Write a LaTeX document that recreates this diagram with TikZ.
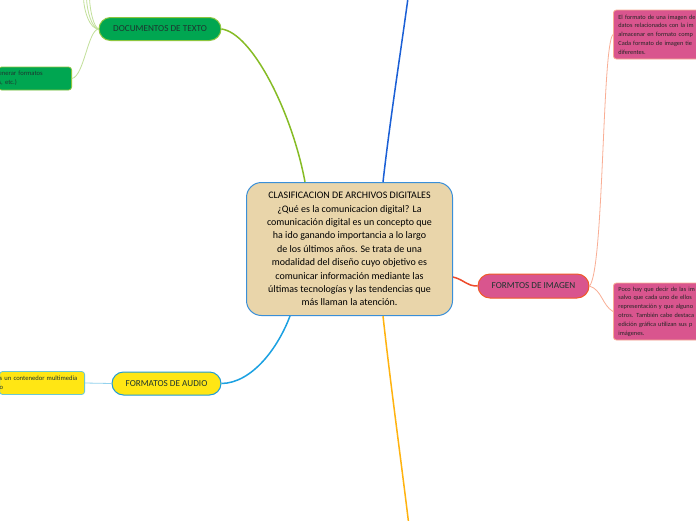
\documentclass[tikz,border=0pt]{standalone}
\usepackage{fontspec}
\setmainfont{Carlito}
\definecolor{cfill}{HTML}{E9D5AA}
\definecolor{cborder}{HTML}{3A8FD8}
\definecolor{docfill}{HTML}{00A651}
\definecolor{docborder}{HTML}{8DC63F}
\definecolor{docline}{HTML}{86BC25}
\definecolor{lightgreen}{HTML}{C2E09A}
\definecolor{imgfill}{HTML}{D9558E}
\definecolor{imgborder}{HTML}{F05A28}
\definecolor{imgline}{HTML}{EE4B2B}
\definecolor{salmon}{HTML}{F9AE95}
\definecolor{audfill}{HTML}{FFE614}
\definecolor{audborder}{HTML}{1E9BD7}
\definecolor{audline}{HTML}{1BA1E2}
\definecolor{lightblue}{HTML}{93D2EE}
\definecolor{tealborder}{HTML}{6CC8D2}
\definecolor{topblue}{HTML}{1A5FD6}
\definecolor{botorange}{HTML}{FFB30F}
\definecolor{darktext}{HTML}{1E3530}
\tikzset{
  central/.style={draw=cborder, fill=cfill, line width=1pt, rounded corners=15pt,
    minimum width=206pt, minimum height=133pt, align=center, text=black,
    font=\fontsize{10}{13.4}\selectfont, inner sep=0pt},
  pill/.style={line width=1pt, minimum height=23pt, inner sep=0pt,
    font=\fontsize{9.2}{10}\selectfont, text=darktext},
  sidebox/.style={line width=0.8pt, rounded corners=3pt, align=left, inner ysep=0pt,
    font=\fontsize{6.6}{8.8}\selectfont, text=darktext},
  pinkbox/.style={sidebox, draw=salmon, fill=imgfill, anchor=west, text width=110pt,
    inner xsep=5pt, text=black!85, font=\fontsize{6.3}{8.8}\selectfont},
  thick line/.style={line width=1.5pt},
  thin line/.style={line width=0.8pt}
}
\begin{document}
\begin{tikzpicture}[x=1pt,y=-1pt]
\clip (0,0) rectangle (696,520);
\fill[white] (0,0) rectangle (696,520);

% free ends
\coordinate (topend) at (408,-2);
\coordinate (botend) at (408.5,522);
\coordinate (t1) at (83.5,-2);
\coordinate (t2) at (86.5,-2);
\coordinate (t3) at (89.5,-2);

% nodes
\node[central] (c) at (349.5,249) {CLASIFICACION DE ARCHIVOS DIGITALES\\
¿Qué es la comunicacion digital? La\\
comunicación digital es un concepto que\\
ha ido ganando importancia a lo largo\\
de los últimos años. Se trata de una\\
modalidad del diseño cuyo objetivo es\\
comunicar información mediante las\\
últimas tecnologías y las tendencias que\\
más llaman la atención.};

\node[pill, draw=docborder, fill=docfill, rounded corners=11.5pt, minimum width=122pt] (doc) at (160,29) {DOCUMENTOS DE TEXTO};

\node[sidebox, draw=docborder, fill=docfill, anchor=east, minimum height=23pt,
  text width=73pt, inner xsep=0pt] (gl) at (72,78.5) {enerar formatos\\s, etc.)};

\node[pill, draw=imgborder, fill=imgfill, rounded corners=12pt, minimum width=111pt, minimum height=24pt] (img) at (533.5,286) {FORMTOS DE IMAGEN};

\node[pinkbox, minimum height=49pt] (pt) at (613,34.5)
  {El formato de una imagen de\\datos relacionados con la im\\almacenar en formato comp\\Cada formato de imagen tie\\diferentes.};

\node[pinkbox, minimum height=57pt] (pb) at (613,311.5)
  {Poco hay que decir de las im\\salvo que cada uno de ellos\\representación y que alguno\\otros. También cabe destaca\\edición gráfica utilizan sus p\\imágenes.};

\node[pill, draw=audborder, fill=audfill, rounded corners=11.5pt, minimum width=109pt] (aud) at (166.5,383.5) {FORMATOS DE AUDIO};

\node[sidebox, draw=tealborder, fill=audfill, anchor=east, minimum height=23pt,
  text width=85pt, inner xsep=0pt] (yl) at (85,383) {s un contenedor multimedia\\o};

% connectors
\draw[thick line, docline] (doc.east) .. controls (252,33) and (292,112) .. ([xshift=-44.5pt]c.north);
\draw[thick line, topblue] ([xshift=33.5pt]c.north) .. controls (390,120) and (401,50) .. (topend);
\draw[thick line, botorange] ([xshift=33.5pt]c.south) .. controls (390,380) and (401,460) .. (botend);
\draw[thick line, imgline] ([yshift=-28pt]c.east) .. controls (465,280) and (466,286) .. (img.west);
\draw[thick line, audline] ([xshift=-59.5pt]c.south) .. controls (278,348) and (252,383) .. (aud.east);

\draw[thin line, lightgreen] (doc.west) .. controls (90,29) and (84,12) .. (t1);
\draw[thin line, lightgreen] (doc.west) .. controls (92,28) and (87,12) .. (t2);
\draw[thin line, lightgreen] (doc.west) .. controls (94,27) and (90,12) .. (t3);
\draw[thin line, lightgreen] (doc.west) .. controls (88,30) and (84,76) .. (gl.east);

\draw[thin line, salmon] (img.east) .. controls (604,270) and (602,45) .. (pt.west);
\draw[thin line, salmon] (img.east) .. controls (602,290) and (602,305) .. (pb.west);

\draw[thin line, lightblue] (aud.west) -- (yl.east);
\end{tikzpicture}
\end{document}
